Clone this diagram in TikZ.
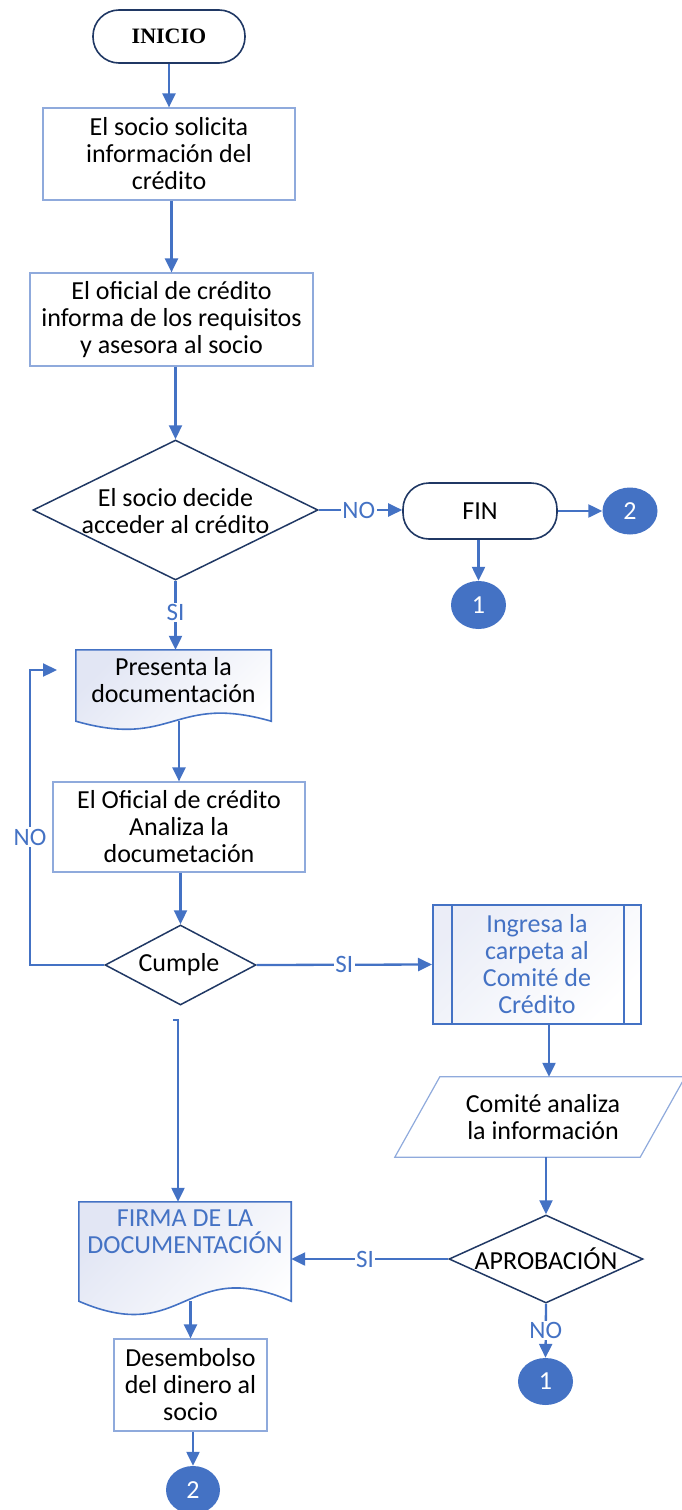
\documentclass[tikz,border=0pt]{standalone}
\usepackage{fontspec}
\setmainfont{Carlito}
\newfontfamily\serifface{Liberation Serif}
\usetikzlibrary{arrows.meta,calc,shapes.geometric}

\definecolor{linkblue}{HTML}{4472C4}
\definecolor{navy}{HTML}{203864}
\definecolor{boxedge}{HTML}{8FAADC}
\definecolor{docshade}{HTML}{E2E6F4}

% document symbol with a wavy lower edge, drawn round an invisible frame node
\newcommand\docoutline[3]{%
  \path[#3] (#1.north west) -- (#1.north east) -- (#1.south east)
    .. controls ($(#1.south)+(0,-#2)$) and ($(#1.south)+(0,#2)$) .. (#1.south west) -- cycle;}

\begin{document}
\begin{tikzpicture}[x=1pt,y=-1pt,
  body/.style={font=\fontsize{26}{27}\selectfont, align=center, text=black, inner sep=0pt},
  procbox/.style={body, rectangle, draw=boxedge, line width=1.2pt},
  terminal/.style={rectangle, rounded corners=26pt, draw=navy, line width=1.6pt, inner sep=0pt},
  decision/.style={diamond, draw=navy, line width=1.5pt, inner sep=0pt},
  frame/.style={rectangle, inner sep=0pt},
  connector/.style={draw=linkblue, line width=2.3pt, -{Triangle[length=14pt,width=13pt]}},
  tag/.style={fill=white, text=linkblue, font=\fontsize{25}{25}\selectfont, inner sep=1.5pt},
  marker/.style={ellipse, fill=linkblue, text=white, font=\fontsize{26}{26}\selectfont, inner sep=0pt},
  docstyle/.style={draw=linkblue, line width=1.6pt, top color=docshade, bottom color=white, shading angle=45},
]
\useasboundingbox (0,0) rectangle (682,1510);

% ---- nodes ----
\node[terminal, minimum width=152pt, minimum height=53pt] (inicio) at (169,36.5)
  {\serifface\bfseries\fontsize{22}{22}\selectfont INICIO};

\node[procbox, minimum width=252pt, minimum height=92pt] (b1) at (169,154)
  {El socio solicita\\información del\\crédito};

\node[procbox, minimum width=283pt, minimum height=93pt] (b2) at (171.5,319.5)
  {El oficial de crédito\\informa de los requisitos\\y asesora al socio};

\node[decision, minimum width=285pt, minimum height=140pt] (d1) at (175.5,510) {};
\node[body] (d1t) at (175.5,511) {El socio decide\\acceder al crédito};

\node[terminal, minimum width=154pt, minimum height=56pt, font=\fontsize{26}{27}\selectfont] (fin) at (480,511) {FIN};

\node[marker, minimum width=55pt, minimum height=47pt] (c2a) at (630,511) {2};
\node[marker, minimum width=55pt, minimum height=48pt] (c1a) at (478.5,605) {1};

% Presenta la documentación
\node[frame, minimum width=195pt, minimum height=71pt] (pres) at (173.5,685.5) {};
\docoutline{pres}{28}{docstyle}
\node[body] (prest) at (173.5,680) {Presenta la\\documentación};

\node[procbox, minimum width=252pt, minimum height=90pt] (b3) at (179,827)
  {El Oficial de crédito\\Analiza la\\documetación};

\node[decision, minimum width=151pt, minimum height=80pt] (cumple) at (180.5,965) {};
\node[body] (cumplet) at (179,965) {Cumple};

% Ingresa la carpeta (predefined process)
\node[body, rectangle, draw=linkblue, line width=2pt, text=linkblue,
      top color=docshade!70, bottom color=white, shading angle=45,
      minimum width=208pt, minimum height=119pt] (ing) at (537,964.5)
  {Ingresa la\\carpeta al\\Comité de\\Crédito};
\draw[linkblue, line width=2pt] ($(ing.north west)+(20,0)$) -- ($(ing.south west)+(20,0)$);
\draw[linkblue, line width=2pt] ($(ing.north east)+(-18,0)$) -- ($(ing.south east)+(-18,0)$);

% Comité analiza (data parallelogram)
\node[frame, minimum width=245pt, minimum height=80pt] (para) at (540,1117) {};
\draw[boxedge, line width=1.2pt]
  ($(para.north west)+(22.5,0)$) -- ($(para.north east)+(22.5,0)$)
  -- ($(para.south east)+(-22.5,0)$) -- ($(para.south west)+(-22.5,0)$) -- cycle;
\node[body] (parat) at (543,1117) {Comité analiza\\la información};

\node[decision, minimum width=194pt, minimum height=88pt] (aprob) at (546,1259) {};
\node[body] (aprobt) at (546,1259) {APROBACIÓN};

\node[marker, minimum width=55pt, minimum height=47pt] (c1b) at (545.5,1381.5) {1};

% Firma de la documentación
\node[frame, minimum width=212pt, minimum height=99pt] (firma) at (185,1251.5) {};
\docoutline{firma}{46}{docstyle}
\node[body, text=linkblue] (firmat) at (185,1231.5) {FIRMA DE LA\\DOCUMENTACIÓN};

\node[procbox, minimum width=153pt, minimum height=92pt] (des) at (190.5,1385)
  {Desembolso\\del dinero al\\socio};

\node[marker, minimum width=54pt, minimum height=48pt] (c2b) at (193,1490) {2};

% ---- connectors ----
\draw[connector] (inicio.south) -- (b1.north);
\draw[connector] (b2.north |- b1.south) -- (b2.north);
\draw[connector] (d1.north |- b2.south) -- (d1.north);
\draw[connector] (d1.east) -- node[tag, pos=0.48] {NO} (d1.east -| fin.west);
\draw[connector] (fin.east) -- (c2a.west);
\draw[connector] (c1a.north |- fin.south) -- (c1a.north);
\draw[connector] (d1.south) -- node[tag, pos=0.46] {SI} (d1.south |- pres.north);
\draw[connector] (b3.north |- pres.south) -- (b3.north);
\draw[connector] (cumple.north |- b3.south) -- (cumple.north);

% rejected documents go back to the presentation step
\coordinate (loopx) at (30,670);
\coordinate (backin) at (57,670);
\draw[connector] (cumple.west) -- (cumple.west -| loopx)
  -- node[tag, pos=0.434] {NO} (loopx) -- (backin);

\draw[connector] (cumple.east) -- node[tag, pos=0.5] {SI} (ing.west);
\coordinate (ingout) at ($(ing.south)+(12,0)$);
\draw[connector] (ingout) -- (ingout |- para.north);
\draw[connector] (aprob.north |- para.south) -- (aprob.north);
\draw[connector] (aprob.west) -- node[tag, pos=0.53] {SI} (aprob.west -| firma.east);
\draw[connector] (aprob.south) -- node[tag, pos=0.49] {NO} (c1b.north);

\coordinate (hookend) at (173,1020);
\coordinate (hookbend) at (178,1020);
\draw[connector] (hookend) -- (hookbend) -- (hookbend |- firma.north);

\draw[connector] (firma.south -| des.north) -- (des.north);
\draw[connector] (c2b.north |- des.south) -- (c2b.north);
\end{tikzpicture}
\end{document}
